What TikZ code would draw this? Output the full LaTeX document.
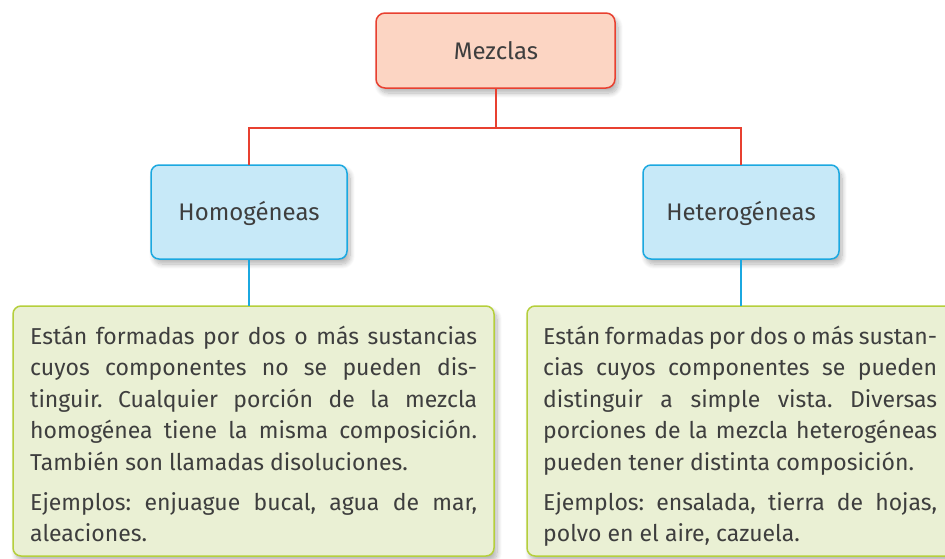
\documentclass[tikz,border=0pt]{standalone}
\usepackage{fontspec}
\setmainfont{Fira Sans}
\frenchspacing
\usetikzlibrary{shadows.blur}
\definecolor{redline}{RGB}{232,64,48}
\definecolor{redfill}{RGB}{252,213,195}
\definecolor{blueline}{RGB}{27,168,224}
\definecolor{bluefill}{RGB}{199,233,248}
\definecolor{greenline}{RGB}{181,207,60}
\definecolor{greenfill}{RGB}{234,240,212}
\definecolor{txt}{RGB}{62,62,62}
\begin{document}
\begin{tikzpicture}[x=1pt,y=-1pt,
  shad/.style={blur shadow={shadow xshift=3pt,shadow yshift=-5pt,shadow blur steps=10,shadow blur radius=5pt,shadow opacity=30}},
  topbox/.style={draw=redline,fill=redfill,line width=1.5pt,rounded corners=9pt,shad},
  midbox/.style={draw=blueline,fill=bluefill,line width=1.5pt,rounded corners=8pt,shad},
  botbox/.style={draw=greenline,fill=greenfill,line width=1.5pt,rounded corners=8pt,shad},
  lbl/.style={font=\fontsize{24}{28}\selectfont,text=txt,inner sep=0pt},
  ln/.style={font=\fontsize{23}{28}\selectfont,text=txt,inner sep=0pt,anchor=base west},
  redc/.style={draw=redline,line width=2.8pt},
  bluec/.style={draw=blueline,line width=2.8pt}]
\useasboundingbox (0,0) rectangle (945,558);
\begin{scope}
\clip (0,0) rectangle (945,558);
% boxes
\path[topbox] (376,13) rectangle (615,88);
\path[midbox] (151,165) rectangle (347,259);
\path[midbox] (643,165) rectangle (839,259);
\path[botbox] (13,306) rectangle (494,556);
\path[botbox] (527,306) rectangle (1010,556);
\end{scope}
% named anchors
\coordinate (mzb) at (496,88);
\coordinate (hoT) at (249,165);
\coordinate (hoB) at (249,259);
\coordinate (heT) at (741,165);
\coordinate (heB) at (741,259);
\coordinate (glT) at (249,306);
\coordinate (grT) at (741,306);
\coordinate (jn) at (496,128);
% connectors
\draw[redc] (mzb) -- (jn);
\draw[redc,line join=miter] (hoT) |- (jn) -| (heT);
\draw[bluec] (hoB) -- (glT);
\draw[bluec] (heB) -- (grT);
% labels
\node[lbl] (mz) at (496,51) {Mezclas};
\node[lbl] (ho) at (249,213) {Homogéneas};
\node[lbl] (he) at (741,213) {Heterogéneas};
% left text
\node[ln] (l1) at (30,344) {\makebox[447pt][s]{Están formadas por dos o más sustancias}};
\node[ln] (l2) at (30,375.5) {\makebox[447pt][s]{cuyos componentes no se pueden dis-}};
\node[ln] (l3) at (30,407) {\makebox[447pt][s]{tinguir. Cualquier porción de la mezcla}};
\node[ln] (l4) at (30,438.5) {\makebox[447pt][s]{homogénea tiene la misma composición.}};
\node[ln] (l5) at (30,470) {También son llamadas disoluciones.};
\node[ln] (l6) at (30,510) {\makebox[447pt][s]{Ejemplos: enjuague bucal, agua de mar,}};
\node[ln] (l7) at (30,541.5) {aleaciones.};
% right text
\node[ln] (r1) at (543,344) {\makebox[394pt][s]{Están formadas por dos o más sustan-}};
\node[ln] (r2) at (543,375.5) {\makebox[394pt][s]{cias cuyos componentes se pueden}};
\node[ln] (r3) at (543,407) {\makebox[394pt][s]{distinguir a simple vista. Diversas}};
\node[ln] (r4) at (543,438.5) {\makebox[394pt][s]{porciones de la mezcla heterogéneas}};
\node[ln] (r5) at (543,470) {pueden tener distinta composición.};
\node[ln] (r6) at (543,510) {\makebox[394pt][s]{Ejemplos: ensalada, tierra de hojas,}};
\node[ln] (r7) at (543,541.5) {polvo en el aire, cazuela.};
\end{tikzpicture}
\end{document}
